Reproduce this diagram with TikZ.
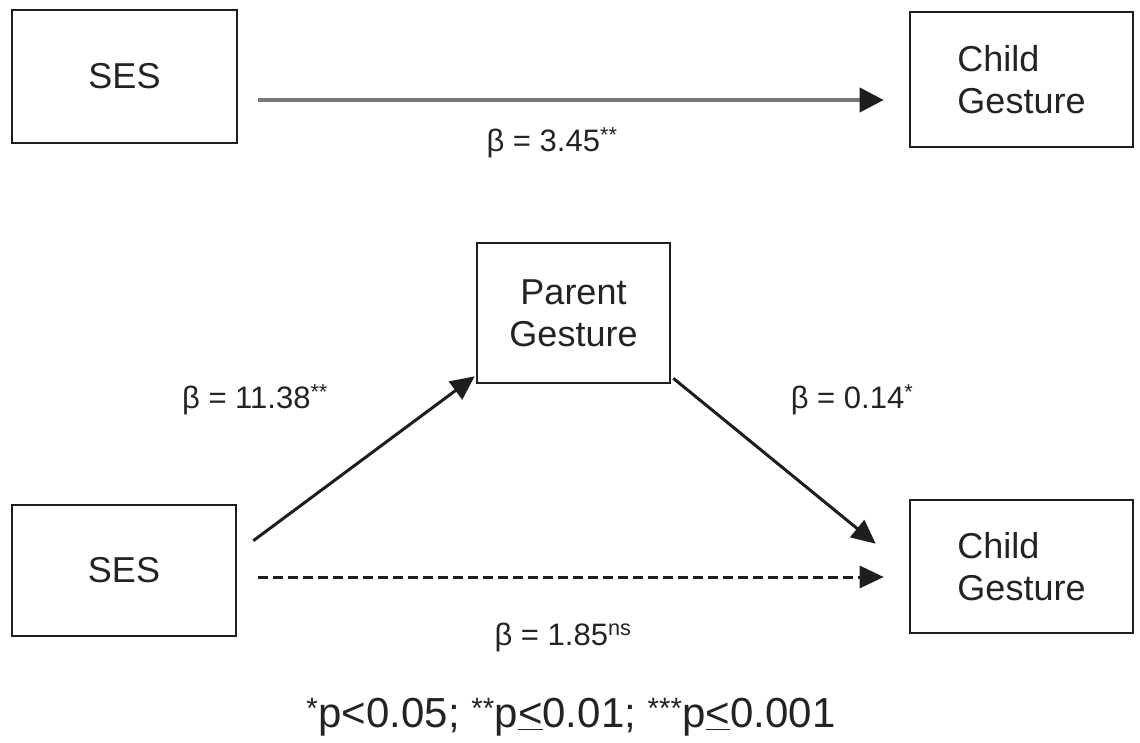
\documentclass[tikz,border=0pt]{standalone}
\usepackage{fontspec}
\setmainfont{Liberation Sans}
\usepackage{tikz}
\usetikzlibrary{arrows.meta,positioning}
\definecolor{boxCol}{RGB}{30, 30, 30}
\definecolor{textCol}{RGB}{35, 35, 35}
\definecolor{totalCol}{RGB}{120, 120, 120}

\begin{document}
\begin{tikzpicture}[
    x=1pt, y=-1pt,
    >={Triangle[length=24pt, width=22pt]},
    % Variable Box Style
    varBox/.style={
        rectangle,
        draw=boxCol,
        line width=2.6pt,
        inner sep=0pt,
        align=left,
        text=textCol,
        font=\fontsize{36}{42}\selectfont
    },
    % Path Coefficient Label Style
    coefLabel/.style={
        inner sep=0pt,
        text=textCol,
        font=\fontsize{31}{35}\selectfont
    },
    % Directed Path Style
    pathArrow/.style={
        ->,
        line width=3pt,
        draw=boxCol
    }
]

    % Canvas
    \useasboundingbox (0,0) rectangle (1140,743);

    % Total effect model
    \node[varBox, minimum width=225pt, minimum height=133pt] (sesTop) at (124.5,76.5) {SES};
    \node[varBox, minimum width=223pt, minimum height=135pt] (childTop) at (1021.5,79.5) {Child\\Gesture};

    % Mediation model
    \node[varBox, minimum width=193pt, minimum height=140pt, align=center] (parent) at (573.5,313) {Parent\\Gesture};
    \node[varBox, minimum width=224pt, minimum height=131pt] (sesBot) at (124,570.5) {SES};
    \node[varBox, minimum width=223pt, minimum height=133pt] (childBot) at (1021.5,566.5) {Child\\Gesture};

    % Total effect path
    \draw[pathArrow, draw=totalCol, line width=4pt, -{Triangle[length=24pt, width=24pt, color=boxCol]}]
        ([shift={(20pt,-23.5pt)}]sesTop.east) -- ([shift={(-25pt,-20.5pt)}]childTop.west);

    % Indirect paths
    \draw[pathArrow] ([shift={(16pt,-37pt)}]sesBot.north east) -- ([shift={(-1pt,8pt)}]parent.south west);
    \draw[pathArrow] ([shift={(2pt,6pt)}]parent.south east) -- ([shift={(-33pt,-45pt)}]childBot.north west);

    % Direct path (not significant)
    \draw[pathArrow, dash pattern=on 10pt off 5pt]
        ([shift={(21pt,-6.5pt)}]sesBot.east) -- ([shift={(-25pt,-10.5pt)}]childBot.west);

    % Coefficients
    \node[coefLabel] (bTotal) at (552,143) {β = 3.45\textsuperscript{**}};
    \node[coefLabel] (bA) at (255,400) {β = 11.38\textsuperscript{**}};
    \node[coefLabel] (bB) at (852,400) {β = 0.14\textsuperscript{*}};
    \node[coefLabel] (bDirect) at (563,637) {β = 1.85\textsuperscript{ns}};

    % Significance note
    \node[coefLabel, font=\fontsize{42}{46}\selectfont] (note) at (571,717)
        {\textsuperscript{*}p<0.05; \textsuperscript{**}p\underline{<}0.01; \textsuperscript{***}p\underline{<}0.001};

\end{tikzpicture}
\end{document}
